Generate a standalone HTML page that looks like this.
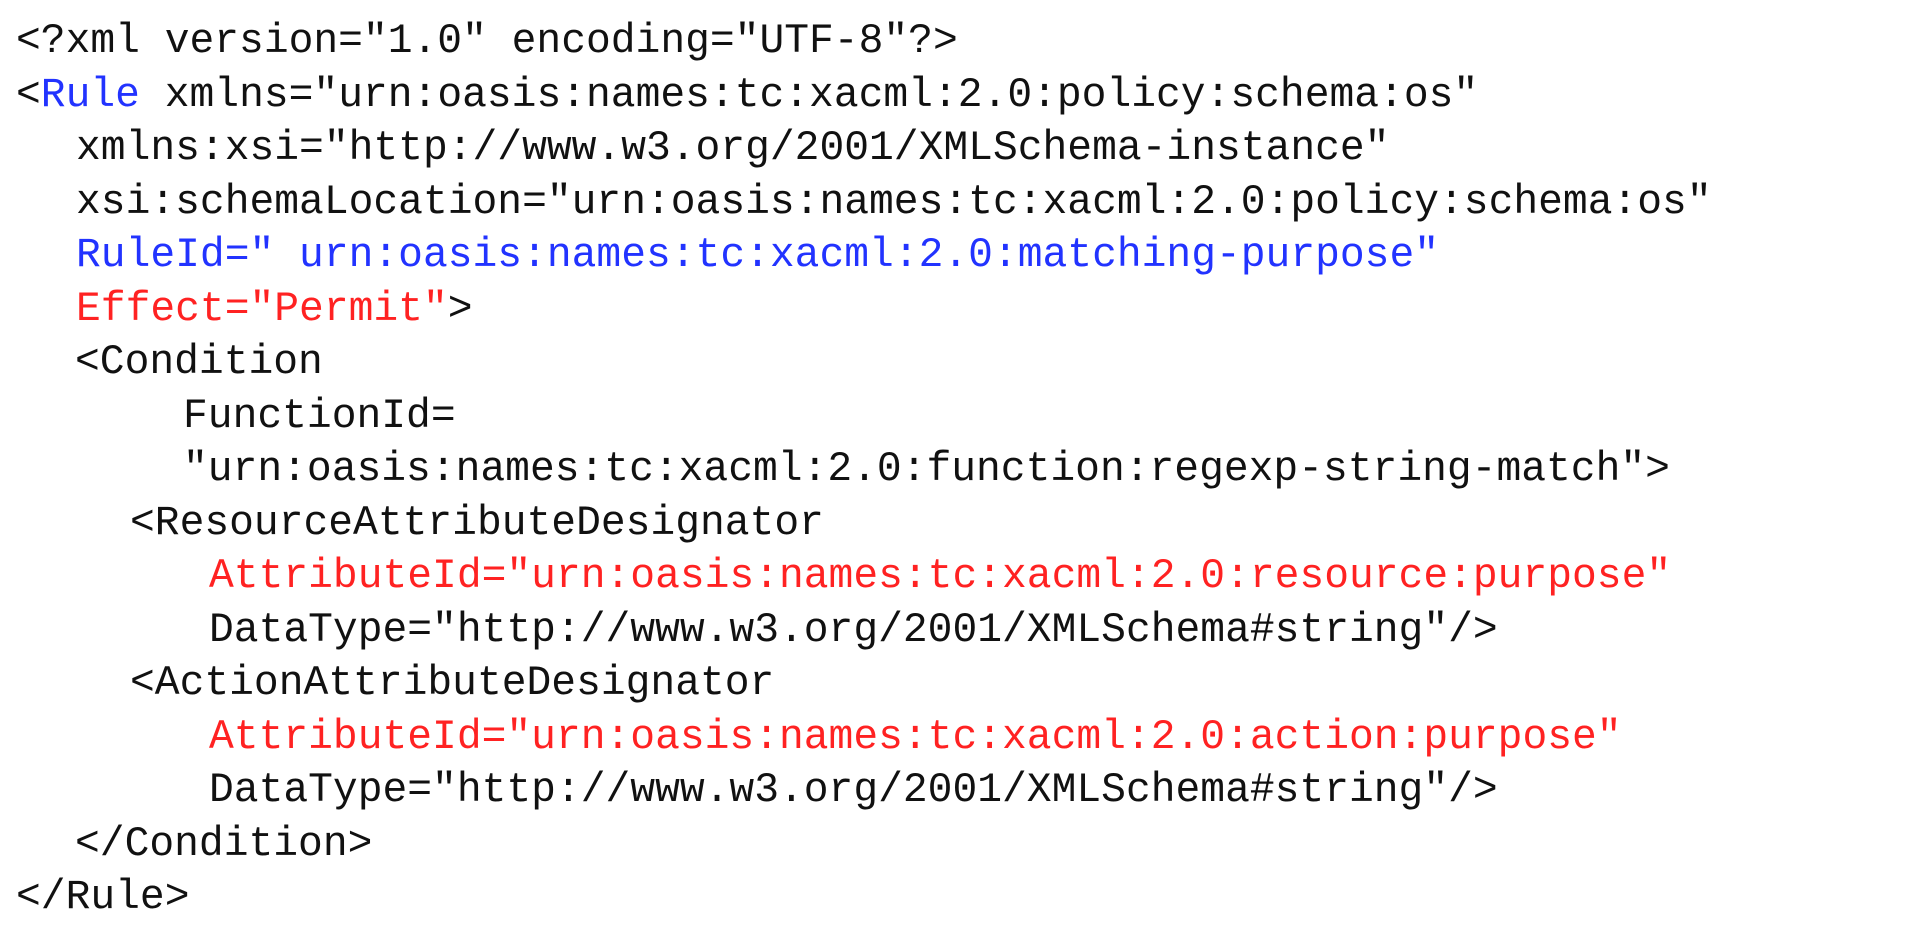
<!DOCTYPE html>
<html><head><meta charset="utf-8"><style>
html,body{margin:0;padding:0;background:#fff;width:1908px;height:944px;overflow:hidden}
.l{position:absolute;white-space:pre;font-family:"Liberation Mono",monospace;font-size:41.3px;line-height:53.5px;color:#111}
.b{color:#2233ff}.r{color:#ff2222}
</style></head><body>
<div class="l" style="left:16px;top:16px">&lt;?xml version="1.0" encoding="UTF-8"?&gt;</div>
<div class="l" style="left:16px;top:69.5px">&lt;<span class="b">Rule</span> xmlns="urn:oasis:names:tc:xacml:2.0:policy:schema:os"</div>
<div class="l" style="left:76px;top:123px">xmlns:xsi="http://www.w3.org/2001/XMLSchema-instance"</div>
<div class="l" style="left:76px;top:176.5px">xsi:schemaLocation="urn:oasis:names:tc:xacml:2.0:policy:schema:os"</div>
<div class="l b" style="left:76px;top:230px">RuleId=" urn:oasis:names:tc:xacml:2.0:matching-purpose"</div>
<div class="l" style="left:76px;top:283.5px"><span class="r">Effect="Permit"</span>&gt;</div>
<div class="l" style="left:75px;top:337px">&lt;Condition</div>
<div class="l" style="left:183px;top:390.5px">FunctionId=</div>
<div class="l" style="left:183px;top:444px">"urn:oasis:names:tc:xacml:2.0:function:regexp-string-match"&gt;</div>
<div class="l" style="left:130px;top:497.5px">&lt;ResourceAttributeDesignator</div>
<div class="l r" style="left:209px;top:551px">AttributeId="urn:oasis:names:tc:xacml:2.0:resource:purpose"</div>
<div class="l" style="left:209px;top:604.5px">DataType="http://www.w3.org/2001/XMLSchema#string"/&gt;</div>
<div class="l" style="left:130px;top:658px">&lt;ActionAttributeDesignator</div>
<div class="l r" style="left:209px;top:711.5px">AttributeId="urn:oasis:names:tc:xacml:2.0:action:purpose"</div>
<div class="l" style="left:209px;top:765px">DataType="http://www.w3.org/2001/XMLSchema#string"/&gt;</div>
<div class="l" style="left:75px;top:818.5px">&lt;/Condition&gt;</div>
<div class="l" style="left:16px;top:872px">&lt;/Rule&gt;</div>
</body></html>
